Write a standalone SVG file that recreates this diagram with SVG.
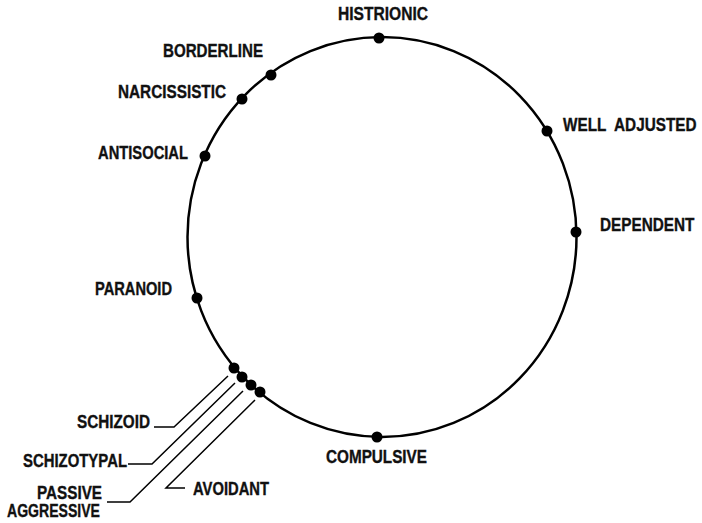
<svg xmlns="http://www.w3.org/2000/svg" width="702" height="523" viewBox="0 0 702 523">
<style>
.lbl{font-family:"Liberation Sans",Arial,sans-serif;font-weight:bold;font-size:17.5px;fill:#111;stroke:#111;stroke-width:0.35}
.dot{fill:#000}
.ring{fill:none;stroke:#000;stroke-width:2.5}
.lead{fill:none;stroke:#000;stroke-width:1.5}
</style>
<rect width="702" height="523" fill="#fff"/>
<ellipse id="ring" class="ring" cx="382" cy="237" rx="194.5" ry="200"/>
<g id="connectors">
<polyline class="lead" points="154,427 174,427 228,376"/>
<polyline class="lead" points="128,464 152,464 235,383"/>
<polyline class="lead" points="107,502 130,502 243,391"/>
<polyline class="lead" points="185,488 166,488 255,400"/>
</g>
<g id="histrionic"><circle class="dot" cx="379" cy="38" r="5.5"/><text class="lbl" x="338" y="20" textLength="90" lengthAdjust="spacingAndGlyphs">HISTRIONIC</text></g>
<g id="borderline"><circle class="dot" cx="271" cy="75" r="5.5"/><text class="lbl" x="163" y="57" textLength="100" lengthAdjust="spacingAndGlyphs">BORDERLINE</text></g>
<g id="narcissistic"><circle class="dot" cx="242" cy="99" r="5.5"/><text class="lbl" x="118" y="98" textLength="108" lengthAdjust="spacingAndGlyphs">NARCISSISTIC</text></g>
<g id="antisocial"><circle class="dot" cx="205" cy="156" r="5.5"/><text class="lbl" x="98" y="159" textLength="90" lengthAdjust="spacingAndGlyphs">ANTISOCIAL</text></g>
<g id="paranoid"><circle class="dot" cx="197" cy="298" r="5.5"/><text class="lbl" x="95" y="295" textLength="77" lengthAdjust="spacingAndGlyphs">PARANOID</text></g>
<g id="well-adjusted"><circle class="dot" cx="547" cy="131" r="5.5"/><text class="lbl" transform="translate(563,131) scale(0.875,1)" x="0" y="0" xml:space="preserve">WELL  ADJUSTED</text></g>
<g id="dependent"><circle class="dot" cx="576" cy="232" r="5.5"/><text class="lbl" transform="translate(600,231) scale(0.875,1)" x="0" y="0">DEPENDENT</text></g>
<g id="compulsive"><circle class="dot" cx="377" cy="437" r="5.5"/><text class="lbl" x="326" y="463" textLength="101" lengthAdjust="spacingAndGlyphs">COMPULSIVE</text></g>
<g id="schizoid"><circle class="dot" cx="234" cy="368" r="5.5"/><text class="lbl" x="77" y="428" textLength="73" lengthAdjust="spacingAndGlyphs">SCHIZOID</text></g>
<g id="schizotypal"><circle class="dot" cx="242" cy="377" r="5.5"/><text class="lbl" x="23" y="467" textLength="104" lengthAdjust="spacingAndGlyphs">SCHIZOTYPAL</text></g>
<g id="passive-aggressive"><circle class="dot" cx="251" cy="385" r="5.5"/><text class="lbl" x="37" y="499" textLength="65" lengthAdjust="spacingAndGlyphs">PASSIVE</text><text class="lbl" x="7" y="517" textLength="93" lengthAdjust="spacingAndGlyphs">AGGRESSIVE</text></g>
<g id="avoidant"><circle class="dot" cx="260" cy="392" r="5.5"/><text class="lbl" x="193" y="495" textLength="76" lengthAdjust="spacingAndGlyphs">AVOIDANT</text></g>
</svg>
